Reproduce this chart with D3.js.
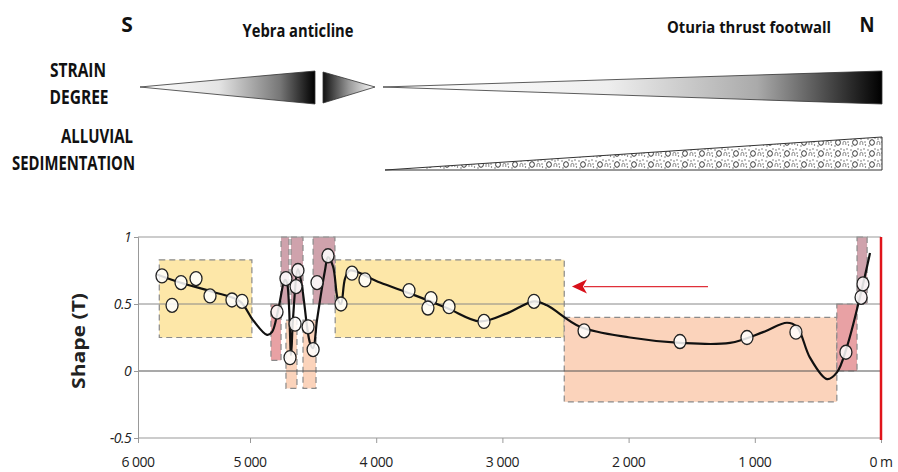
<!DOCTYPE html>
<html>
<head>
<meta charset="utf-8">
<script src="https://cdn.jsdelivr.net/npm/d3@7"></script>
<style>
  body { margin: 0; background: #fff; }
  svg { display: block; }
  text { font-family: "Open Sans", "Noto Sans", sans-serif; }
</style>
</head>
<body>
<svg id="chart" width="898" height="472"></svg>
<script>
// ---- data ----
const xTicks = [6000, 5000, 4000, 3000, 2000, 1000, 0];
const xTickLabels = ["6 000", "5 000", "4 000", "3 000", "2 000", "1 000", "0 m"];
const yTicks = [1, 0.5, 0, -0.5];
const yTickLabels = ["1", "0.5", "0", "-0.5"];

// boxes: [distance from, distance to, T low, T high]
const yellowBoxes = [[5810, 4985, 0.25, 0.83], [4325, 2510, 0.25, 0.83]];
const salmonBoxes = [[2510, 350, -0.23, 0.40], [4715, 4628, -0.13, 0.38], [4580, 4477, -0.13, 0.38]];
const roseBoxes = [[4834, 4754, 0.08, 0.5], [350, 190, 0, 0.5]];
const mauveBoxes = [[4754, 4691, 0.5, 1], [4675, 4580, 0.5, 1], [4500, 4327, 0.5, 1], [190, 110, 0.5, 1]];

// measured samples (distance m, shape T)
const samples = [
  [5786, 0.71], [5696, 0.49], [5616, 0.66], [5482, 0.69], [5357, 0.56], [5161, 0.53], [5071, 0.52],
  [4786, 0.44], [4715, 0.69], [4683, 0.10], [4643, 0.35], [4635, 0.63], [4620, 0.75], [4540, 0.33],
  [4500, 0.16], [4469, 0.66], [4382, 0.86], [4279, 0.50], [4192, 0.73], [4089, 0.68], [3740, 0.60],
  [3566, 0.54], [3590, 0.47], [3423, 0.48], [3146, 0.37], [2750, 0.52], [2353, 0.30], [1593, 0.22],
  [1062, 0.25], [674, 0.29], [278, 0.14], [158, 0.55], [143, 0.65]
];

// smoothed trend line
const trend = [
  [5830, 0.72], [5625, 0.66], [5330, 0.59], [5090, 0.52], [4976, 0.38], [4865, 0.27], [4826, 0.29],
  [4778, 0.45], [4723, 0.68], [4707, 0.66], [4675, 0.12], [4660, 0.38], [4620, 0.76], [4588, 0.63],
  [4525, 0.21], [4500, 0.17], [4469, 0.38], [4406, 0.75], [4382, 0.85], [4342, 0.78], [4303, 0.53],
  [4279, 0.50], [4247, 0.69], [4208, 0.75], [3970, 0.66], [3708, 0.57], [3439, 0.47], [3177, 0.37],
  [2964, 0.43], [2750, 0.52], [2647, 0.49], [2385, 0.33], [1989, 0.25], [1593, 0.21], [1197, 0.21],
  [935, 0.29], [745, 0.36], [666, 0.33], [563, 0.10], [428, -0.06], [349, -0.01], [270, 0.18],
  [167, 0.55], [87, 0.88]
];

const arrow = [1371, 2449, 0.63];

// ---- layout ----
const svg = d3.select("#chart");
const x = d3.scaleLinear().domain([6000, 5000, 0]).range([138, 250, 881]);
const y = d3.scaleLinear().domain([-0.5, 1]).range([438, 237]);

// ---- top schematic ----
const defs = svg.append("defs");
function grad(id, stops) {
  const g = defs.append("linearGradient").attr("id", id).attr("x1", 0).attr("x2", 1).attr("y1", 0).attr("y2", 0);
  stops.forEach(s => g.append("stop").attr("offset", s[0]).attr("stop-color", s[1]));
}
grad("g1", [[0, "#fff"], [0.45, "#e4e4e4"], [0.8, "#777"], [1, "#000"]]);
grad("g2", [[0, "#111"], [0.5, "#999"], [1, "#fff"]]);
grad("g3", [[0, "#fff"], [0.45, "#eee"], [0.75, "#aaa"], [1, "#000"]]);

const pat = defs.append("pattern").attr("id", "gravel").attr("patternUnits", "userSpaceOnUse")
  .attr("width", 17).attr("height", 11).attr("y", 170);
pat.append("rect").attr("width", 17).attr("height", 11).attr("fill", "#fff");
pat.append("ellipse").attr("cx", 5).attr("cy", 5.5).attr("rx", 2.4).attr("ry", 2.8)
  .attr("fill", "none").attr("stroke", "#333").attr("stroke-width", 1);
pat.append("path").attr("d", "M10,8 v-2.2 a1.4,1.4 0 0 1 2.8,0 v2.2")
  .attr("fill", "none").attr("stroke", "#555").attr("stroke-width", 0.7);
[[1, 2], [11, 2], [15.5, 8], [2, 9], [14, 1], [8, 1], [15, 5]].forEach(p =>
  pat.append("circle").attr("cx", p[0]).attr("cy", p[1]).attr("r", 0.7).attr("fill", "#555"));

const wedgeStroke = "#333";
svg.append("path").attr("d", "M140,87 L315,71 L315,104 Z")
  .attr("fill", "url(#g1)").attr("stroke", wedgeStroke).attr("stroke-width", 0.8);
svg.append("path").attr("d", "M323,72 L375,87 L323,103 Z")
  .attr("fill", "url(#g2)").attr("stroke", wedgeStroke).attr("stroke-width", 0.8);
svg.append("path").attr("d", "M383,87 L882,71 L882,104 Z")
  .attr("fill", "url(#g3)").attr("stroke", wedgeStroke).attr("stroke-width", 0.8);
svg.append("path").attr("d", "M385,170 L882,137 L882,170 Z")
  .attr("fill", "url(#gravel)").attr("stroke", wedgeStroke).attr("stroke-width", 1);

// condensed bold labels, squeezed to the measured widths
const lab = (t, px, py, anchor, size, len) => {
  const el = svg.append("text").attr("x", px).attr("y", py)
    .attr("text-anchor", anchor).attr("font-size", size).attr("font-weight", 700)
    .attr("fill", "#111").text(t);
  if (len) el.attr("textLength", len).attr("lengthAdjust", "spacingAndGlyphs");
  return el;
};
lab("S", 127, 32, "middle", 21);
lab("N", 867, 32, "middle", 21, 15);
lab("Yebra anticline", 298, 37, "middle", 17, 111);
lab("Oturia thrust footwall", 749, 33, "middle", 16, 164);
lab("STRAIN", 78, 77, "middle", 20, 56);
lab("DEGREE", 79, 104, "middle", 20, 59);
lab("ALLUVIAL", 133, 143, "end", 20, 72);
lab("SEDIMENTATION", 135, 170, "end", 20, 123);

// ---- boxes ----
function boxes(data, fill, stroke) {
  svg.append("g").selectAll("rect").data(data).enter().append("rect")
    .attr("x", d => x(d[0])).attr("width", d => x(d[1]) - x(d[0]))
    .attr("y", d => y(d[3])).attr("height", d => y(d[2]) - y(d[3]))
    .attr("fill", fill).attr("stroke", stroke).attr("stroke-width", 1.2)
    .attr("stroke-dasharray", "6,4");
}
boxes(yellowBoxes, "#fde7a8", "#8a8a8a");
boxes(salmonBoxes, "#fbd3bb", "#8a8a8a");
boxes(roseBoxes, "#e8a1a4", "#8a8a8a");
boxes(mauveBoxes, "#cfa2ac", "#8a8a8a");

// ---- frame and gridlines ----
svg.append("line").attr("x1", 138).attr("x2", 881).attr("y1", y(1)).attr("y2", y(1))
  .attr("stroke", "#999").attr("stroke-width", 1);
svg.append("line").attr("x1", 138).attr("x2", 881).attr("y1", y(0.5)).attr("y2", y(0.5))
  .attr("stroke", "#888").attr("stroke-width", 1);
svg.append("line").attr("x1", 138).attr("x2", 881).attr("y1", y(0)).attr("y2", y(0))
  .attr("stroke", "#555").attr("stroke-width", 1.2);

const yAxis = svg.append("g").attr("transform", "translate(138,0)")
  .call(d3.axisLeft(y).tickValues(yTicks).tickSize(4).tickFormat(""));
yAxis.select(".domain").attr("stroke", "#999");
yAxis.selectAll(".tick line").attr("stroke", "#999");
svg.append("g").selectAll("text").data(yTicks).enter().append("text")
  .attr("x", 131).attr("y", d => y(d) + 5).attr("text-anchor", "end")
  .attr("font-size", 14).attr("font-style", "italic").attr("fill", "#222")
  .attr("letter-spacing", -0.6)
  .text((d, i) => yTickLabels[i]);

const xAxis = svg.append("g").attr("transform", "translate(0,438)")
  .call(d3.axisBottom(x).tickValues(xTicks).tickSize(5).tickFormat(""));
xAxis.select(".domain").attr("stroke", "#999").attr("d", "M138,0H881");
xAxis.selectAll(".tick line").attr("stroke", "#999");
svg.append("g").selectAll("text").data(xTicks).enter().append("text")
  .attr("x", d => x(d)).attr("y", 467).attr("text-anchor", "middle")
  .attr("font-size", 14).attr("fill", "#222").attr("letter-spacing", -0.5)
  .attr("xml:space", "preserve")
  .text((d, i) => xTickLabels[i]);

svg.append("text").attr("transform", "translate(85,341) rotate(-90)")
  .attr("text-anchor", "middle").attr("font-size", 17).attr("font-weight", 700)
  .attr("fill", "#222").attr("textLength", 96).attr("lengthAdjust", "spacingAndGlyphs")
  .text("Shape (T)");

// red reference line at 0 m
svg.append("line").attr("x1", x(0)).attr("x2", x(0)).attr("y1", y(1)).attr("y2", y(-0.5) + 2)
  .attr("stroke", "#e0141b").attr("stroke-width", 2.5);

// ---- arrow ----
svg.append("line").attr("x1", x(arrow[0])).attr("x2", x(arrow[1]) + 12)
  .attr("y1", y(arrow[2])).attr("y2", y(arrow[2]))
  .attr("stroke", "#e0303a").attr("stroke-width", 1.4);
const ax = x(arrow[1]), ay = y(arrow[2]);
svg.append("path").attr("d", `M${ax},${ay} L${ax + 15},${ay - 7} L${ax + 11},${ay} L${ax + 15},${ay + 7} Z`)
  .attr("fill", "#d8101a");

// ---- trend line ----
svg.append("path").datum(trend)
  .attr("d", d3.line().x(d => x(d[0])).y(d => y(d[1])).curve(d3.curveCatmullRom.alpha(0.5)))
  .attr("fill", "none").attr("stroke", "#111").attr("stroke-width", 2.2);

// ---- samples ----
svg.append("g").selectAll("ellipse").data(samples).enter().append("ellipse")
  .attr("cx", d => x(d[0])).attr("cy", d => y(d[1])).attr("rx", 6).attr("ry", 7)
  .attr("fill", "#fff").attr("fill-opacity", 0.85).attr("stroke", "#222").attr("stroke-width", 1.3);
</script>
</body>
</html>
